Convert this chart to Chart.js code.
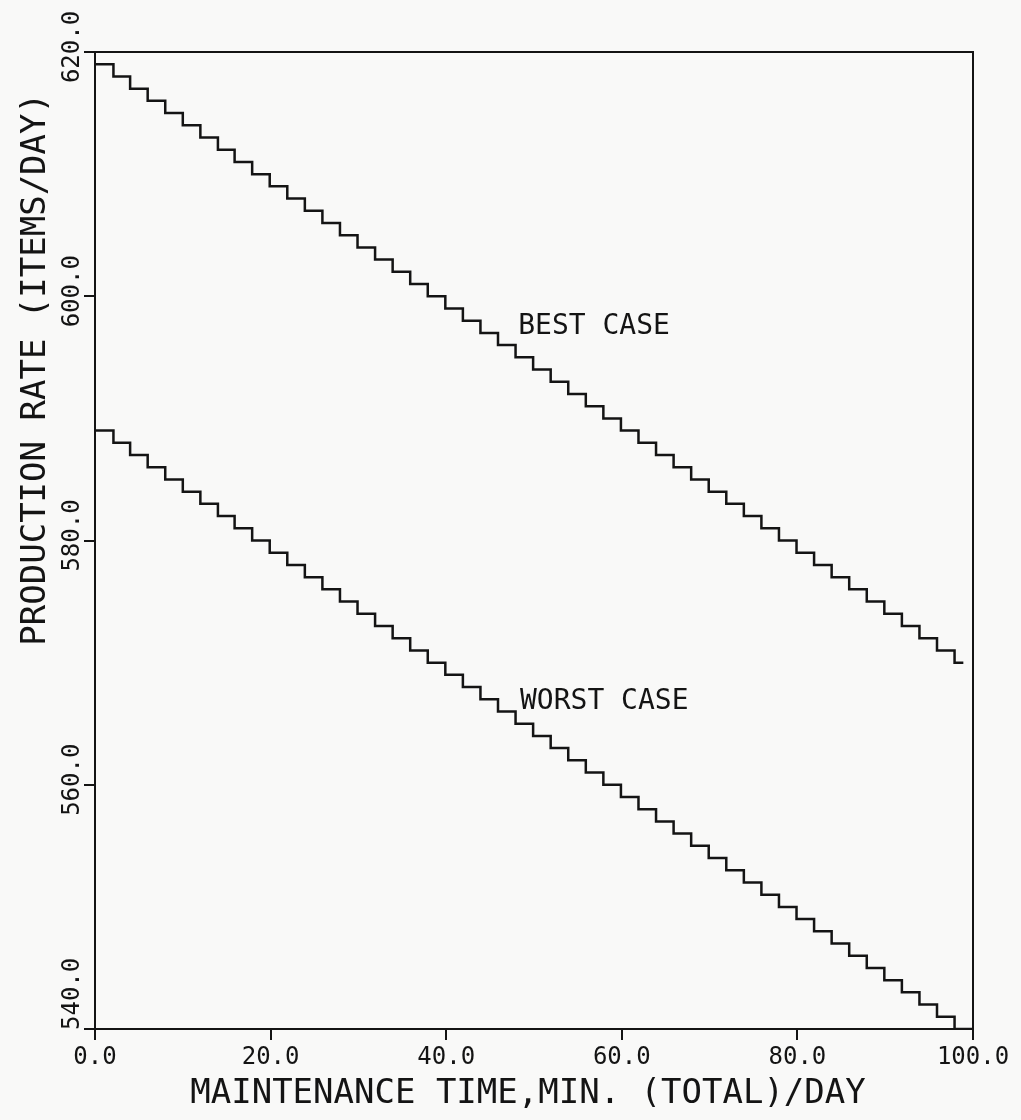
<!DOCTYPE html>
<html>
<head>
<meta charset="utf-8">
<script src="https://cdn.jsdelivr.net/npm/chart.js@4/dist/chart.umd.min.js"></script>
<style>
  html, body { margin: 0; padding: 0; background: #f9f9f8; }
  #wrap { width: 1021px; height: 1120px; }
</style>
</head>
<body>
<div id="wrap"><canvas id="rateChart" width="1021" height="1120"></canvas></div>
<script>
// maintenance minutes at which the rate drops by one item
var dropTimes = [
  0, 2.1, 4.0, 6.0, 8.0, 10.0, 12.0, 14.0, 15.9, 17.9, 19.9, 21.9, 23.9,
  25.9, 27.9, 29.9, 31.9, 33.9, 35.9, 37.9, 39.9, 41.9, 43.9, 45.9, 47.9,
  49.9, 51.9, 53.9, 55.9, 57.9, 59.9, 61.9, 63.9, 65.9, 67.9, 69.9, 71.9,
  73.9, 75.9, 77.9, 79.9, 81.9, 83.9, 85.9, 87.9, 89.9, 91.9, 93.9, 95.9, 97.9
];
var bestRate = [
  619, 618, 617, 616, 615, 614, 613, 612, 611, 610, 609, 608, 607,
  606, 605, 604, 603, 602, 601, 600, 599, 598, 597, 596, 595,
  594, 593, 592, 591, 590, 589, 588, 587, 586, 585, 584, 583,
  582, 581, 580, 579, 578, 577, 576, 575, 574, 573, 572, 571, 570
];
var worstRate = [
  589, 588, 587, 586, 585, 584, 583, 582, 581, 580, 579, 578, 577,
  576, 575, 574, 573, 572, 571, 570, 569, 568, 567, 566, 565,
  564, 563, 562, 561, 560, 559, 558, 557, 556, 555, 554, 553,
  552, 551, 550, 549, 548, 547, 546, 545, 544, 543, 542, 541, 540
];
var bestEnd = 98.9;
var worstEnd = 100.0;

var xTicks = [0, 20, 40, 60, 80, 100];
var yTicks = [540, 560, 580, 600, 620];

var noteText = ["BEST CASE", "WORST CASE"];
var noteX = [48.2, 48.4];
var noteY = [597.5, 566.8];

var xTitle = "MAINTENANCE TIME,MIN. (TOTAL)/DAY";
var yTitle = "PRODUCTION RATE (ITEMS/DAY)";

function steps(times, rates, end) {
  var pts = [];
  for (var i = 0; i < times.length; i++) {
    pts.push({ x: times[i], y: rates[i] });
  }
  pts.push({ x: end, y: rates[rates.length - 1] });
  return pts;
}

var ink = "#141414";
var mono = "'DejaVu Sans Mono', 'Liberation Mono', monospace";

var plotterText = {
  id: "plotterText",
  beforeDraw: function (chart) {
    var c = chart.ctx;
    c.save();
    c.fillStyle = "#f9f9f8";
    c.fillRect(0, 0, chart.width, chart.height);
    c.restore();
  },
  afterDraw: function (chart) {
    var c = chart.ctx;
    var a = chart.chartArea;
    var xs = chart.scales.x;
    var ys = chart.scales.y;
    c.save();
    // frame
    c.strokeStyle = ink;
    c.lineWidth = 2;
    c.strokeRect(a.left, a.top, a.right - a.left, a.bottom - a.top);

    c.fillStyle = ink;
    // x tick labels
    c.font = "24px " + mono;
    c.textAlign = "center";
    c.textBaseline = "middle";
    xTicks.forEach(function (v) {
      c.fillText(v.toFixed(1), xs.getPixelForValue(v), a.bottom + 29);
    });
    // y tick labels, rotated; the bottom one sits above its tick
    yTicks.forEach(function (v) {
      var py = ys.getPixelForValue(v);
      c.save();
      if (v === yTicks[0]) {
        c.translate(a.left - 22, py + 1);
        c.rotate(-Math.PI / 2);
        c.textAlign = "left";
      } else {
        c.translate(a.left - 22, py - 5);
        c.rotate(-Math.PI / 2);
        c.textAlign = "center";
      }
      c.fillText(v.toFixed(1), 0, 0);
      c.restore();
    });
    c.textAlign = "center";
    // axis titles
    c.font = "34px " + mono;
    c.fillText(xTitle, (a.left + a.right) / 2 - 6, a.bottom + 65);
    c.save();
    c.translate(36, a.top + 41);
    c.rotate(-Math.PI / 2);
    c.textAlign = "right";
    c.fillText(yTitle, 0, 0);
    c.restore();
    // curve labels
    c.font = "28px " + mono;
    c.textAlign = "left";
    for (var i = 0; i < noteText.length; i++) {
      c.fillText(noteText[i], xs.getPixelForValue(noteX[i]), ys.getPixelForValue(noteY[i]));
    }
    c.restore();
  }
};

var ctx = document.getElementById("rateChart").getContext("2d");
var myChart = new Chart(ctx, {
  type: "scatter",
  data: {
    datasets: [
      {
        label: "Best case",
        data: steps(dropTimes, bestRate, bestEnd),
        showLine: true,
        stepped: true,
        borderColor: ink,
        borderWidth: 2.5,
        pointRadius: 0,
        fill: false,
      },
      {
        label: "Worst case",
        data: steps(dropTimes, worstRate, worstEnd),
        showLine: true,
        stepped: true,
        borderColor: ink,
        borderWidth: 2.5,
        pointRadius: 0,
        fill: false,
      },
    ],
  },
  options: {
    responsive: false,
    animation: false,
    layout: { padding: { top: 52, right: 48, left: 0, bottom: 0 } },
    plugins: {
      legend: { display: false },
      tooltip: { enabled: false },
    },
    scales: {
      x: {
        type: "linear",
        min: 0,
        max: 100,
        afterBuildTicks: function (s) {
          s.ticks = xTicks.map(function (v) { return { value: v }; });
        },
        afterFit: function (s) { s.height = 91; },
        ticks: { display: false },
        grid: { drawOnChartArea: false, drawTicks: true, tickLength: 11, color: ink, lineWidth: 2 },
        border: { display: true, color: ink, width: 2 },
      },
      y: {
        type: "linear",
        min: 540,
        max: 620,
        afterBuildTicks: function (s) {
          s.ticks = yTicks.map(function (v) { return { value: v }; });
        },
        afterFit: function (s) { s.width = 95; },
        ticks: { display: false },
        grid: { drawOnChartArea: false, drawTicks: true, tickLength: 11, color: ink, lineWidth: 2 },
        border: { display: true, color: ink, width: 2 },
      },
    },
  },
  plugins: [plotterText],
});
</script>
</body>
</html>
